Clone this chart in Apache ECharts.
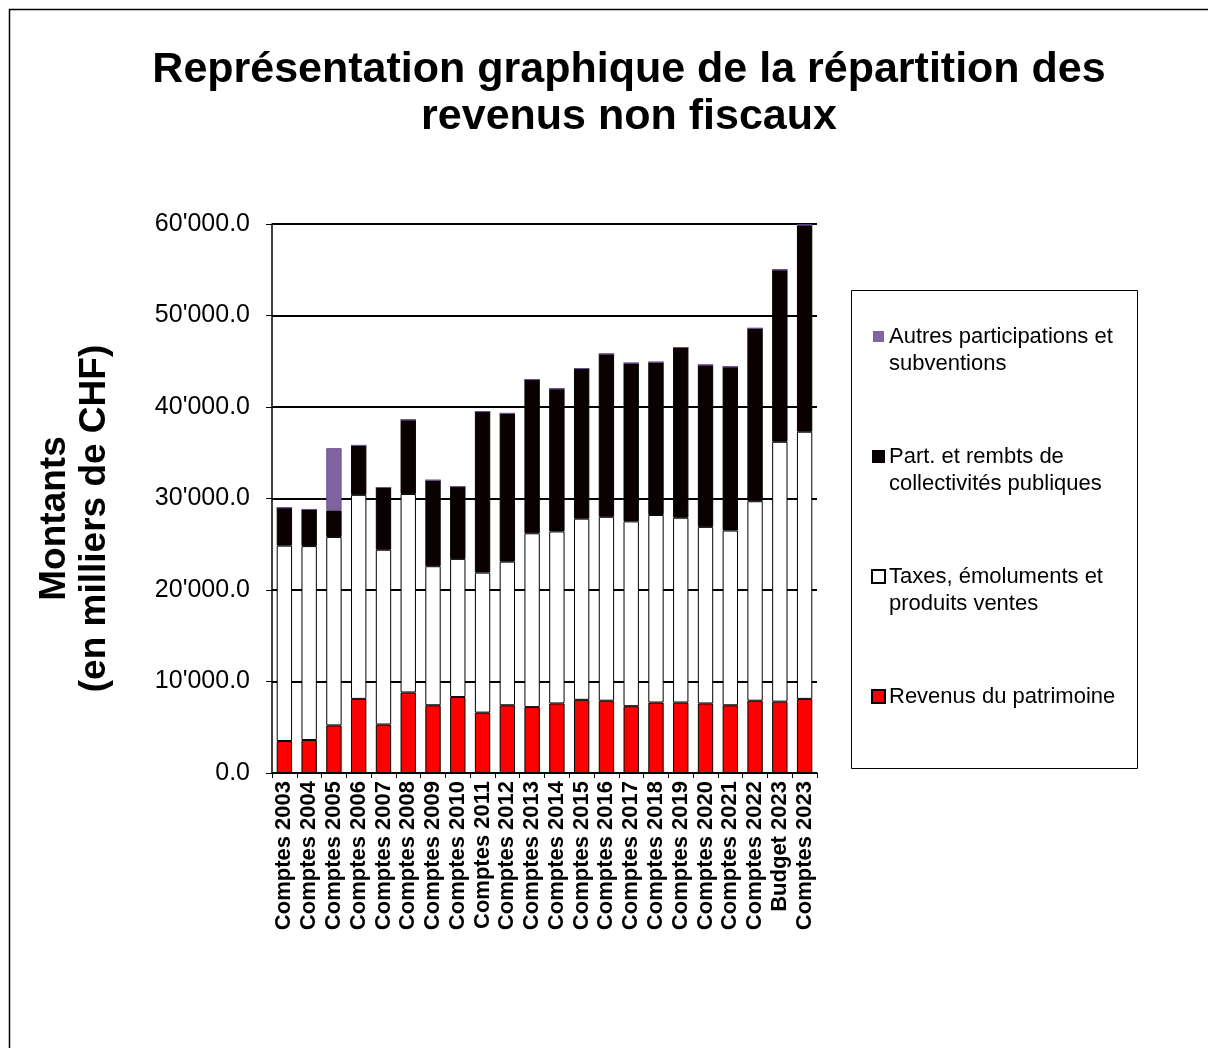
<!DOCTYPE html>
<html>
<head>
<meta charset="utf-8">
<script src="https://cdn.jsdelivr.net/npm/echarts@6/dist/echarts.min.js"></script>
<style>
html,body{margin:0;padding:0;background:#fff;}
#chart{width:1208px;height:1048px;}
</style>
</head>
<body>
<div id="chart"></div>
<script>
const categories = ['Comptes 2003','Comptes 2004','Comptes 2005','Comptes 2006','Comptes 2007','Comptes 2008','Comptes 2009','Comptes 2010','Comptes 2011','Comptes 2012','Comptes 2013','Comptes 2014','Comptes 2015','Comptes 2016','Comptes 2017','Comptes 2018','Comptes 2019','Comptes 2020','Comptes 2021','Comptes 2022','Budget 2023','Comptes 2023'];
const revenusPatrimoine = [3500,3600,5200,8100,5300,8800,7400,8300,6600,7400,7200,7600,8000,7900,7300,7700,7700,7600,7400,7900,7800,8100];
const taxesEmoluments = [21350,21200,20600,22300,19100,21700,15200,15100,15300,15700,19000,18800,19800,20100,20200,20500,20200,19300,19100,21800,28400,29200];
const partRembts = [4150,4000,2900,5400,6800,8100,9400,7900,17600,16200,16800,15600,16400,17800,17300,16700,18600,17700,17900,18900,18800,22600];
const autresParticipations = [0,0,6800,0,0,0,0,0,0,0,0,0,0,0,0,0,0,0,0,0,0,0];

const seriesNames = ['Revenus du patrimoine','Taxes, émoluments et produits ventes','Part. et rembts de collectivités publiques','Autres participations et subventions'];
const legendLines = {
  'Autres participations et subventions':['sqP','Autres participations et','subventions'],
  'Part. et rembts de collectivités publiques':['sqB','Part. et rembts de','collectivités publiques'],
  'Taxes, émoluments et produits ventes':['sqW','Taxes, émoluments et','produits ventes'],
  'Revenus du patrimoine':['sqR','Revenus du patrimoine']
};

function fmt(v){
  const s = Math.round(v).toString().replace(/\B(?=(\d{3})+(?!\d))/g, "'");
  return s + '.0';
}

const chart = echarts.init(document.getElementById('chart'), null, {renderer:'canvas'});
const FONT = 'Liberation Sans, Arial, sans-serif';

function barSeries(name, data, color, border){
  return {
    name: name, type:'bar', stack:'total', data: data,
    barWidth: '62%',
    itemStyle:{color: color, borderColor: border, borderWidth: 1},
    emphasis:{disabled:true}
  };
}

chart.setOption({
  animation:false,
  backgroundColor:'#ffffff',
  textStyle:{fontFamily: FONT},
  title:{
    text:'Représentation graphique de la répartition des\nrevenus non fiscaux',
    left:624, top:42, textAlign:'center',
    textStyle:{fontFamily:FONT, fontSize:43, fontWeight:'bold', color:'#000', lineHeight:47}
  },
  graphic:[
    {type:'rect', left:7, top:7, shape:{x:0,y:0,width:1260,height:1100}, style:{fill:'none', stroke:'#000', lineWidth:1.5}, silent:true, z:-1},
    {type:'rect', left:851, top:290, shape:{x:0,y:0,width:286,height:478}, style:{fill:'#fff', stroke:'#000', lineWidth:1}, silent:true, z:-1}
  ],
  legend:{
    orient:'vertical', left:863, top:318,
    icon:'none', itemWidth:0, itemHeight:11, itemGap:66,
    data: seriesNames.slice().reverse(),
    formatter: n => {
      const L = legendLines[n];
      let s = '{' + L[0] + '|}{gap|}{t|' + L[1] + '}';
      if (L.length > 2) s += '\n{ind|}{t|' + L[2] + '}';
      return s;
    },
    textStyle:{
      fontFamily:FONT, fontSize:22, color:'#000', lineHeight:27,
      rich:{
        t:{fontFamily:FONT, fontSize:22, color:'#000', lineHeight:27},
        gap:{width:5, height:11},
        ind:{width:16, height:11},
        sqP:{width:11, height:11, backgroundColor:'#8064A2'},
        sqB:{width:11, height:11, backgroundColor:'#0a0000', borderColor:'#000', borderWidth:1},
        sqW:{width:11, height:11, backgroundColor:'#fff', borderColor:'#000', borderWidth:2},
        sqR:{width:11, height:11, backgroundColor:'#ff0000', borderColor:'#000', borderWidth:2}
      }
    },
    selectedMode:false
  },
  grid:{left:272, right:391, top:224, bottom:275, containLabel:false},
  xAxis:{
    type:'category', data:categories,
    axisLine:{show:true, lineStyle:{color:'#000', width:1.5}},
    axisTick:{show:true, alignWithLabel:false, length:5, lineStyle:{color:'#000'}},
    axisLabel:{rotate:90, interval:0, fontFamily:FONT, fontSize:22, fontWeight:'bold', color:'#000', margin:8}
  },
  yAxis:{
    type:'value', min:0, max:60000, interval:10000,
    name:'Montants\n(en milliers de CHF)', nameLocation:'middle', nameRotate:90, nameGap:157,
    nameTextStyle:{fontFamily:FONT, fontSize:37, fontWeight:'bold', color:'#000', lineHeight:40, align:'center', padding:[0,40,0,0]},
    axisLine:{show:true, lineStyle:{color:'#000', width:1.5}},
    axisTick:{show:true, length:6, lineStyle:{color:'#000'}},
    axisLabel:{formatter: v => fmt(v), fontFamily:FONT, fontSize:25, color:'#000', margin:22},
    splitLine:{show:true, lineStyle:{color:'#000', width:2}}
  },
  series:[
    barSeries(seriesNames[0], revenusPatrimoine, '#ff0000', '#000'),
    barSeries(seriesNames[1], taxesEmoluments, '#ffffff', '#000'),
    barSeries(seriesNames[2], partRembts, '#0a0000', '#000'),
    barSeries(seriesNames[3], autresParticipations, '#8064A2', '#6a5090')
  ]
});
</script>
</body>
</html>
